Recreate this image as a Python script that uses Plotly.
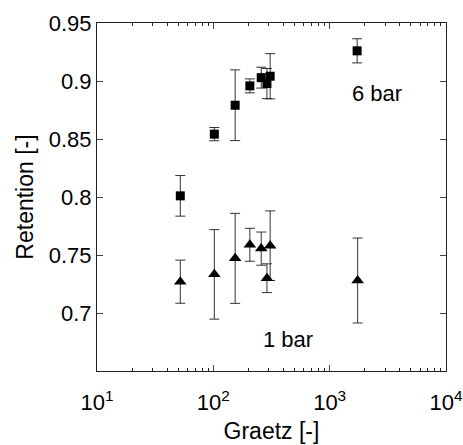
import math
import plotly.graph_objects as go

# 6 bar series
gz6 = [52, 102, 154, 206, 258, 289, 308, 1722]
ret6 = [0.801, 0.8542, 0.8791, 0.8958, 0.9029, 0.8978, 0.9041, 0.926]
err6 = [0.0175, 0.0057, 0.0305, 0.006, 0.009, 0.013, 0.0195, 0.0104]

# 1 bar series
gz1 = [52, 102, 154, 206, 258, 289, 308, 1740]
ret1 = [0.727, 0.7333, 0.7471, 0.7588, 0.7555, 0.730, 0.758, 0.728]
err1 = [0.0186, 0.0386, 0.0388, 0.0142, 0.0143, 0.0124, 0.030, 0.0366]

xtick_vals = [10, 100, 1000, 10000]
xtick_text = ["10<sup>1</sup>", "10<sup>2</sup>", "10<sup>3</sup>", "10<sup>4</sup>"]
xminor_vals = [m * d for d in (10, 100, 1000) for m in range(2, 10)]
ytick_vals = [0.7, 0.75, 0.8, 0.85, 0.9, 0.95]
ytick_text = ["0.7", "0.75", "0.8", "0.85", "0.9", "0.95"]

labels = ["6 bar", "1 bar"]
label_x = [2543, 437]
label_y = [0.8895, 0.677]

FONT = "Liberation Sans, Arial, sans-serif"
FS = 22
FT = 23
fig = go.Figure()
fig.add_trace(go.Scatter(
    x=gz6, y=ret6, mode="markers",
    marker=dict(symbol="square", size=9, color="black"),
    error_y=dict(type="data", array=err6, color="#333333", thickness=1, width=5),
    showlegend=False))
fig.add_trace(go.Scatter(
    x=gz1, y=ret1, mode="markers",
    marker=dict(symbol="triangle-up", size=11, color="black"),
    error_y=dict(type="data", array=err1, color="#333333", thickness=1, width=5),
    showlegend=False))
# invisible trace to activate the minor-tick axis
fig.add_trace(go.Scatter(x=[10], y=[0.65], xaxis="x2", yaxis="y", mode="markers",
                         marker=dict(opacity=0), hoverinfo="skip", showlegend=False))

for t, x, y in zip(labels, label_x, label_y):
    fig.add_annotation(x=math.log10(x), y=y, xref="x", yref="y", text=t, showarrow=False,
                       font=dict(size=FS, color="black", family=FONT))

fig.update_layout(
    width=463, height=445,
    margin=dict(l=97, r=17, t=23, b=74),
    plot_bgcolor="white", paper_bgcolor="white",
    font=dict(family=FONT, size=FS, color="black"),
    xaxis=dict(type="log", range=[1, 4], tickvals=xtick_vals, ticktext=xtick_text,
               tickfont=dict(size=FS, family=FONT, color="black"), automargin=False,
               ticklabelstandoff=12,
               ticks="inside", ticklen=6, showline=True, linecolor="#222", linewidth=1,
               mirror="ticks", showgrid=False, zeroline=False,
               title=dict(text="Graetz [-]", font=dict(size=FT), standoff=8)),
    xaxis2=dict(type="log", range=[1, 4], overlaying="x", side="bottom", anchor="y",
                tickvals=xminor_vals, showticklabels=False, automargin=False,
                ticks="inside", ticklen=3, tickwidth=1, tickcolor="#222",
                showline=True, linecolor="#222", linewidth=1,
                mirror="ticks", showgrid=False, zeroline=False),
    yaxis=dict(range=[0.65, 0.95], tickvals=ytick_vals, ticktext=ytick_text,
               tickfont=dict(size=FS, family=FONT, color="black"), automargin=False,
               ticks="inside", ticklen=6, showline=True, linecolor="#222", linewidth=1,
               mirror="ticks", showgrid=False, zeroline=False,
               title=dict(text="Retention [-]", font=dict(size=FT), standoff=8)),
)

fig.write_html("out.html")
